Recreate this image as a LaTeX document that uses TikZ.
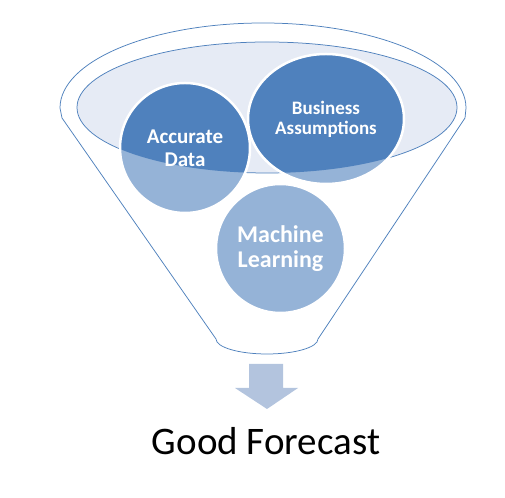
\documentclass[tikz,border=0pt]{standalone}
\usepackage{fontspec}
\setmainfont{Carlito}
\usetikzlibrary{shapes,positioning}

\definecolor{funnelblue}{RGB}{79,129,189}
\definecolor{bubblelight}{RGB}{149,179,215}
\definecolor{rimfill}{RGB}{230,235,245}
\definecolor{arrowfill}{RGB}{179,196,222}

\begin{document}
\begin{tikzpicture}[
    x=1pt, y=1pt,
    funnel/.style={draw=funnelblue, line width=0.75pt, fill=white},
    rim/.style={draw=funnelblue, line width=0.75pt, fill=rimfill},
    bubble/.style={circle, inner sep=0pt, fill=bubblelight, draw=white, line width=2.5pt, text=white, align=center,
        path picture={\fill[funnelblue] (rimc) ellipse [x radius=190, y radius=65.5];}},
    outputtext/.style={anchor=base, font=\fontsize{39}{44}\selectfont}
]
\useasboundingbox (0,0) rectangle (505,497);

% Funnel outline
\draw[funnel] (62,379) -- (60,389) arc[start angle=180, end angle=0, x radius=203, y radius=85]
    -- (465,379) -- (318,158) arc[start angle=0, end angle=-180, x radius=51, y radius=15] -- cycle;

% Funnel rim
\coordinate (rimc) at (267,389.5);
\draw[rim] (rimc) ellipse [x radius=190, y radius=65.5];

% Ingredients
\node[bubble, minimum size=130pt, font=\bfseries\fontsize{21}{23}\selectfont] (acc) at (185,349) {Accurate\\Data};
\node[bubble, ellipse, minimum width=156pt, minimum height=130pt, font=\bfseries\fontsize{19}{20}\selectfont] (bus) at (326,378) {Business\\Assumptions};
\node[bubble, minimum size=129pt, font=\bfseries\fontsize{24}{25}\selectfont] (ml) at (280.5,248.5) {Machine\\Learning};

% Result
\fill[arrowfill] (249,133) -- (283,133) -- (283,109) -- (298,109) -- (267,88) -- (235,109) -- (249,109) -- cycle;
\node[outputtext] (fc) at (266,42) {Good Forecast};

\end{tikzpicture}
\end{document}
